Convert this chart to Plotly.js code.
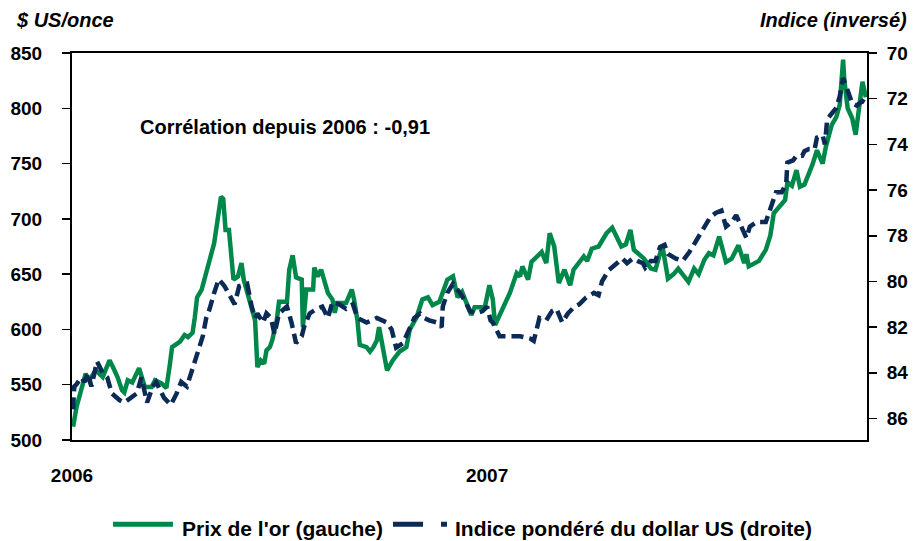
<!DOCTYPE html>
<html>
<head>
<meta charset="utf-8">
<script src="https://cdn.plot.ly/plotly-3.0.1.min.js"></script>
<style>html,body{margin:0;padding:0;background:#fff;}#chart{width:914px;height:541px;}</style>
</head>
<body>
<div id="chart"></div>
<script>
// ---- Data ----
const goldDates = ['2006-01-02','2006-01-05','2006-01-09','2006-01-13','2006-01-16','2006-01-22','2006-01-28','2006-02-03','2006-02-06','2006-02-10',
'2006-02-14','2006-02-16','2006-02-19','2006-02-23','2006-03-01','2006-03-06','2006-03-12','2006-03-15','2006-03-21','2006-03-25',
'2006-03-28','2006-03-30','2006-04-06','2006-04-10','2006-04-13','2006-04-17','2006-04-19','2006-04-21','2006-04-25','2006-04-29',
'2006-05-02','2006-05-06','2006-05-09','2006-05-12','2006-05-14','2006-05-16','2006-05-19','2006-05-21','2006-05-23','2006-05-27',
'2006-05-30','2006-06-01','2006-06-04','2006-06-08','2006-06-11','2006-06-13','2006-06-16','2006-06-19','2006-06-21','2006-06-24',
'2006-06-26','2006-06-30','2006-07-02','2006-07-09','2006-07-11','2006-07-14','2006-07-17','2006-07-22','2006-07-23','2006-07-26',
'2006-08-01','2006-08-02','2006-08-05','2006-08-08','2006-08-11','2006-08-14','2006-08-18','2006-08-20','2006-08-22','2006-08-30',
'2006-09-04','2006-09-06','2006-09-09','2006-09-11','2006-09-17','2006-09-20','2006-09-23','2006-09-26','2006-09-28','2006-10-01',
'2006-10-05','2006-10-10','2006-10-16','2006-10-22','2006-10-25','2006-10-31','2006-11-05','2006-11-10','2006-11-14','2006-11-20',
'2006-11-25','2006-11-27','2006-12-02','2006-12-06','2006-12-10','2006-12-14','2006-12-18','2006-12-21','2006-12-30','2007-01-03',
'2007-01-06','2007-01-08','2007-01-15','2007-01-21','2007-01-27','2007-01-30','2007-02-01','2007-02-06','2007-02-09','2007-02-14',
'2007-02-18','2007-02-22','2007-02-25','2007-03-01','2007-03-05','2007-03-10','2007-03-15','2007-03-18','2007-03-23','2007-03-27',
'2007-03-30','2007-04-03','2007-04-09','2007-04-16','2007-04-21','2007-04-25','2007-04-29','2007-05-03','2007-05-07','2007-05-10',
'2007-05-14','2007-05-19','2007-05-25','2007-05-29','2007-06-04','2007-06-09','2007-06-14','2007-06-18','2007-06-27','2007-07-02',
'2007-07-06','2007-07-11','2007-07-15','2007-07-19','2007-07-24','2007-07-30','2007-08-04','2007-08-10','2007-08-15','2007-08-17',
'2007-08-19','2007-08-28','2007-09-03','2007-09-07','2007-09-10','2007-09-15','2007-09-20','2007-09-22','2007-09-26','2007-09-30',
'2007-10-03','2007-10-07','2007-10-11','2007-10-14','2007-10-18','2007-10-23','2007-10-26','2007-10-31','2007-11-04','2007-11-07',
'2007-11-10','2007-11-11','2007-11-14','2007-11-18','2007-11-21','2007-11-24','2007-11-27','2007-11-30'];

const goldPrice = [512,530,545,560,554,563,557,572,566,557,
545,543,554,552,565,548,548,554,551,547,
568,584,589,595,593,597,611,629,636,651,
663,678,699,720,718,690,690,666,645,648,
660,645,633,621,608,566,572,569,581,584,
590,608,625,625,654,667,647,645,602,636,
636,656,648,654,645,633,627,615,624,624,
636,627,608,586,584,580,584,590,602,584,
563,572,580,584,600,611,627,629,622,625,
638,645,648,629,634,624,613,620,620,640,
627,604,620,633,651,648,657,645,661,666,
670,660,687,675,642,654,640,654,661,666,
662,673,675,687,692,684,675,677,690,672,
669,664,655,654,676,646,650,655,643,655,
650,663,669,667,684,661,664,676,660,668,
657,662,672,685,705,711,717,733,730,744,
729,731,740,749,762,750,766,785,792,803,
844,826,800,791,776,797,824,810];

const usdDates = ['2006-01-02','2006-01-03','2006-01-05','2006-01-09','2006-01-12','2006-01-15','2006-01-18','2006-01-23','2006-01-28','2006-02-01',
'2006-02-05','2006-02-12','2006-02-16','2006-02-21','2006-02-27','2006-03-03','2006-03-06','2006-03-08','2006-03-13','2006-03-16',
'2006-03-23','2006-03-29','2006-04-03','2006-04-07','2006-04-12','2006-04-16','2006-04-21','2006-04-26','2006-04-29','2006-05-02',
'2006-05-06','2006-05-10','2006-05-15','2006-05-20','2006-05-24','2006-05-28','2006-06-04','2006-06-08','2006-06-11','2006-06-13',
'2006-06-18','2006-06-21','2006-06-25','2006-06-28','2006-07-02','2006-07-09','2006-07-13','2006-07-17','2006-07-22','2006-07-24',
'2006-07-29','2006-08-04','2006-08-09','2006-08-14','2006-08-18','2006-08-24','2006-08-30','2006-09-05','2006-09-09','2006-09-13',
'2006-09-17','2006-09-26','2006-10-05','2006-10-09','2006-10-13','2006-10-19','2006-10-25','2006-10-29','2006-11-03','2006-11-07',
'2006-11-11','2006-11-18','2006-11-22','2006-11-23','2006-11-27','2006-12-02','2006-12-08','2006-12-12','2006-12-17','2006-12-22',
'2006-12-28','2007-01-01','2007-01-04','2007-01-06','2007-01-12','2007-01-21','2007-01-30','2007-02-08','2007-02-11','2007-02-16',
'2007-02-22','2007-02-27','2007-03-03','2007-03-08','2007-03-13','2007-03-19','2007-03-23','2007-03-29','2007-04-05','2007-04-09',
'2007-04-12','2007-04-18','2007-04-25','2007-04-30','2007-05-04','2007-05-09','2007-05-13','2007-05-18','2007-05-20','2007-05-25',
'2007-05-29','2007-06-02','2007-06-06','2007-06-09','2007-06-16','2007-06-22','2007-06-28','2007-07-04','2007-07-08','2007-07-13',
'2007-07-16','2007-07-21','2007-07-26','2007-07-30','2007-08-04','2007-08-08','2007-08-14','2007-08-17','2007-08-20','2007-08-26',
'2007-09-03','2007-09-10','2007-09-12','2007-09-17','2007-09-21','2007-09-22','2007-09-27','2007-09-30','2007-10-05','2007-10-07',
'2007-10-11','2007-10-16','2007-10-18','2007-10-23','2007-10-25','2007-10-27','2007-11-01','2007-11-04','2007-11-07','2007-11-10',
'2007-11-13','2007-11-16','2007-11-18','2007-11-22','2007-11-24','2007-11-27','2007-11-30'];

const usdIndex = [85.6,84.6,84.5,84.2,84.4,84.0,84.6,83.5,84.0,84.2,
84.9,85.2,85.3,85.1,84.9,84.2,84.8,85.3,84.6,84.4,
85.1,85.4,84.9,84.4,84.6,84.0,83.3,82.4,81.6,81.2,
80.5,79.9,80.2,80.6,81.0,80.2,80.1,81.1,81.6,81.4,
81.8,81.4,81.6,82.3,81.4,81.1,81.8,82.7,82.4,82.0,
81.4,81.2,81.1,81.6,80.9,81.0,81.2,81.0,81.6,81.7,
81.8,81.6,81.8,82.1,82.9,82.7,82.1,81.6,81.4,81.6,
81.7,81.8,82.0,81.1,80.5,80.1,80.5,80.8,81.3,81.4,
81.3,81.1,81.7,81.8,82.4,82.4,82.4,82.5,82.6,81.6,
81.7,81.3,81.2,81.8,81.4,81.1,81.0,80.7,80.5,80.6,
80.0,79.5,79.2,79.0,79.2,79.0,79.1,79.2,79.4,79.1,
79.1,78.5,78.4,78.8,79.0,79.1,78.7,78.2,77.8,77.4,
77.2,77.0,76.9,77.6,77.4,77.1,77.7,78.1,77.6,77.4,
77.4,76.4,76.1,76.1,75.7,74.8,74.7,74.5,74.5,74.3,
74.2,74.2,73.7,73.6,74.0,72.9,72.6,72.4,71.9,71.1,
71.5,71.9,72.2,72.3,72.2,72.1,72.2];

const xTickVals = ['2006-01-01','2007-01-01'];
const xTickText = ['2006','2007'];
const leftTicks = [500,550,600,650,700,750,800,850];
const rightTicks = [70,72,74,76,78,80,82,84,86];
const seriesNames = ["Prix de l'or (gauche)", "Indice pondéré du dollar US (droite)"];

// ---- Styles ----
const GREEN = '#00884B';
const NAVY = '#0B2A55';
const FONT = 'Liberation Sans, Arial, Helvetica, sans-serif';

const traces = [
  {x: goldDates, y: goldPrice, type: 'scatter', mode: 'lines', name: seriesNames[0],
   line: {color: GREEN, width: 4.5}, yaxis: 'y', showlegend: false, hoverinfo: 'skip'},
  {x: usdDates, y: usdIndex, type: 'scatter', mode: 'lines', name: seriesNames[1],
   line: {color: NAVY, width: 4.5, dash: '12px,6px'}, yaxis: 'y2', showlegend: false, hoverinfo: 'skip'}
];

const legY = -0.228;
const tickFont = {family: FONT, size: 19, color: '#000', weight: 'bold'};
const layout = {
  width: 914, height: 541,
  margin: {l: 72, r: 47, t: 53, b: 101},
  paper_bgcolor: '#ffffff', plot_bgcolor: '#ffffff',
  font: {family: FONT, size: 19, color: '#000', weight: 'bold'},
  showlegend: false,
  xaxis: {
    type: 'date', range: ['2006-01-01', '2007-12-01'],
    tickmode: 'array', tickvals: xTickVals, ticktext: xTickText,
    ticks: '', showgrid: false, zeroline: false,
    showline: true, linecolor: '#000', linewidth: 2, mirror: true,
    ticklabelstandoff: 17,
    tickfont: tickFont
  },
  yaxis: {
    range: [500, 850], tickmode: 'array', tickvals: leftTicks,
    ticks: 'outside', ticklen: 8, tickwidth: 1.5, tickcolor: '#000',
    showgrid: false, zeroline: false,
    showline: true, linecolor: '#000', linewidth: 2,
    ticklabelstandoff: 16,
    tickfont: tickFont
  },
  yaxis2: {
    overlaying: 'y', side: 'right', range: [86.94, 70],
    tickmode: 'array', tickvals: rightTicks,
    ticks: 'outside', ticklen: 8, tickwidth: 1.5, tickcolor: '#000',
    showgrid: false, zeroline: false,
    showline: true, linecolor: '#000', linewidth: 2,
    ticklabelstandoff: 6,
    tickfont: tickFont
  },
  annotations: [
    {text: '<b><i>$ US/once</i></b>', xref: 'paper', yref: 'paper', x: -0.073, y: 1.086,
     xanchor: 'left', yanchor: 'middle', showarrow: false, font: {family: FONT, size: 20, color: '#000'}},
    {text: '<b><i>Indice (inversé)</i></b>', xref: 'paper', yref: 'paper', x: 1.053, y: 1.086,
     xanchor: 'right', yanchor: 'middle', showarrow: false, font: {family: FONT, size: 20, color: '#000'}},
    {text: '<b>Corrélation depuis 2006 : -0,91</b>', xref: 'paper', yref: 'paper', x: 0.083, y: 0.809,
     xanchor: 'left', yanchor: 'middle', showarrow: false, font: {family: FONT, size: 20, color: '#000'}},
    {text: '<b>' + seriesNames[0] + '</b>', xref: 'paper', yref: 'paper', x: 0.1355, y: legY,
     xanchor: 'left', yanchor: 'middle', showarrow: false, font: {family: FONT, size: 21, color: '#000'}},
    {text: '<b>' + seriesNames[1] + '</b>', xref: 'paper', yref: 'paper', x: 0.4795, y: legY,
     xanchor: 'left', yanchor: 'middle', showarrow: false, font: {family: FONT, size: 21, color: '#000'}}
  ],
  shapes: [
    {type: 'line', xref: 'paper', yref: 'paper', x0: 0.0516, x1: 0.127, y0: legY + 0.01, y1: legY + 0.01,
     line: {color: GREEN, width: 5}},
    {type: 'line', xref: 'paper', yref: 'paper', x0: 0.4038, x1: 0.4717, y0: legY + 0.01, y1: legY + 0.01,
     line: {color: NAVY, width: 5, dash: '30px,18px'}}
  ]
};

Plotly.newPlot('chart', traces, layout, {staticPlot: true, displayModeBar: false});
</script>
</body>
</html>
